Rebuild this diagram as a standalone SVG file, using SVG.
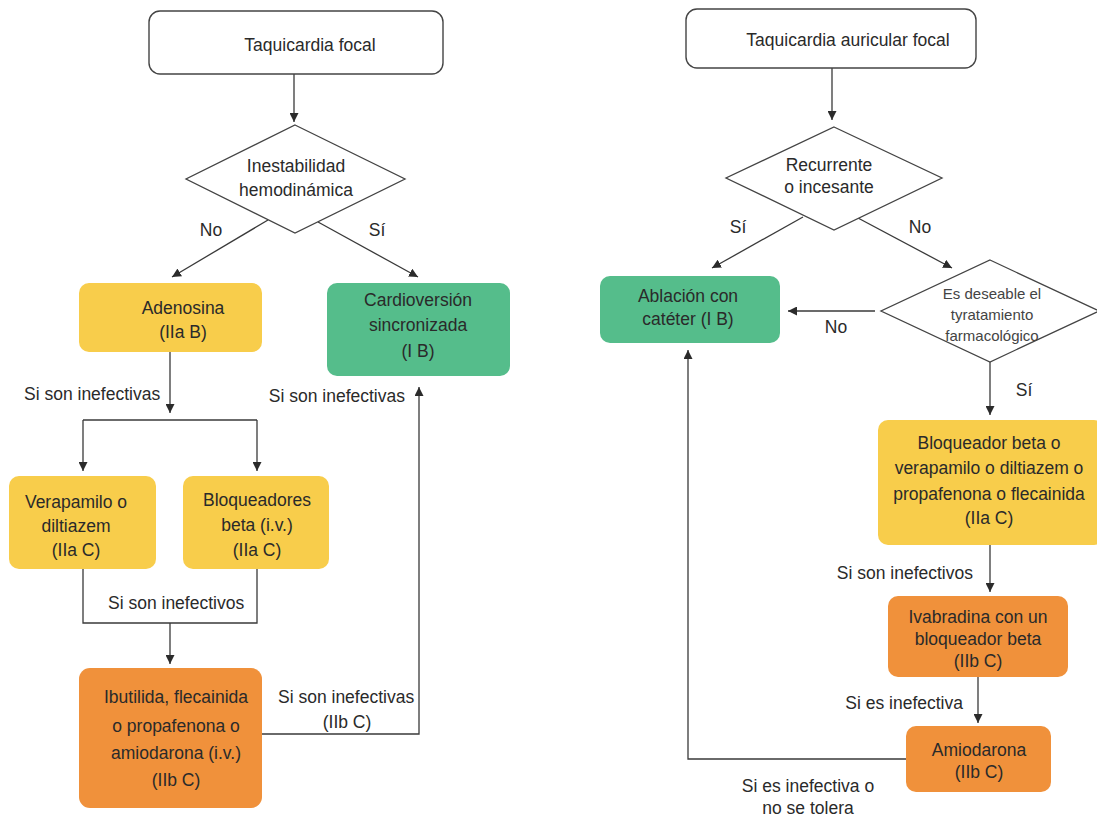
<svg xmlns="http://www.w3.org/2000/svg" width="1097" height="820" viewBox="0 0 1097 820">
  <defs>
    <marker id="arrow" viewBox="0 0 10 10" refX="10" refY="5" markerWidth="9" markerHeight="9" markerUnits="userSpaceOnUse" orient="auto">
      <path d="M0,0 L10,5 L0,10 Z" fill="#2b2b2b"/>
    </marker>
    <style>
      text { font-family: "Liberation Sans", Arial, sans-serif; font-size: 17.5px; fill: #2a2a2a; }
      .c { text-anchor: middle; }
      .e { text-anchor: end; }
      .small { font-size: 15px; fill: #444; }
      .start { fill: #fff; stroke: #444; stroke-width: 1.4; }
      .dec { fill: #fff; stroke: #444; stroke-width: 1.3; }
      .yellow { fill: #F8CD4B; }
      .green { fill: #55BD8B; }
      .orange { fill: #F0913B; }
      .edge { fill: none; stroke: #3a3a3a; stroke-width: 1.3; }
      .arr { marker-end: url(#arrow); }
    </style>
  </defs>
  <rect width="1097" height="820" fill="#fff"/>

  <!-- connectors -->
  <g id="connectors">
    <!-- left chart -->
    <line class="edge arr" x1="294" y1="74" x2="294" y2="122"/>
    <line class="edge arr" x1="268" y1="220" x2="172" y2="277"/>
    <line class="edge arr" x1="318" y1="222" x2="418" y2="277"/>
    <line class="edge arr" x1="170" y1="352" x2="170" y2="413"/>
    <polyline class="edge" points="83,420 257,420"/>
    <line class="edge arr" x1="83" y1="420" x2="83" y2="471"/>
    <line class="edge arr" x1="257" y1="420" x2="257" y2="471"/>
    <polyline class="edge" points="83,569 83,623 257,623 257,569"/>
    <line class="edge arr" x1="170" y1="623" x2="170" y2="664"/>
    <polyline class="edge arr" points="262,734 419,734 419,387"/>
    <!-- right chart -->
    <line class="edge arr" x1="832" y1="68" x2="832" y2="120"/>
    <line class="edge arr" x1="803" y1="217" x2="712" y2="268"/>
    <line class="edge arr" x1="858" y1="218" x2="952" y2="268"/>
    <line class="edge arr" x1="875" y1="311" x2="788" y2="311"/>
    <line class="edge arr" x1="990" y1="362" x2="990" y2="415"/>
    <line class="edge arr" x1="990" y1="545" x2="990" y2="592"/>
    <line class="edge arr" x1="978" y1="677" x2="978" y2="723"/>
    <polyline class="edge arr" points="906,759 688,759 688,350"/>
  </g>

  <!-- connector labels -->
  <g id="labels">
    <text x="211" y="236" class="c">No</text>
    <text x="377" y="236" class="c">Sí</text>
    <text x="24" y="400">Si son inefectivas</text>
    <text x="405" y="402" class="e">Si son inefectivas</text>
    <text x="108" y="609">Si son inefectivos</text>
    <text x="278" y="703">Si son inefectivas</text>
    <text x="347" y="728" class="c">(IIb C)</text>
    <text x="738" y="233" class="c">Sí</text>
    <text x="920" y="233" class="c">No</text>
    <text x="836" y="333" class="c">No</text>
    <text x="1024" y="396" class="c">Sí</text>
    <text x="973" y="579" class="e">Si son inefectivos</text>
    <text x="963" y="709" class="e">Si es inefectiva</text>
    <text x="808" y="792" class="c">Si es inefectiva o</text>
    <text x="808" y="814" class="c">no se tolera</text>
  </g>

  <!-- left chart nodes -->
  <g id="taquicardia-focal">
    <rect class="start" x="149" y="11" width="294" height="63" rx="11"/>
    <text x="310" y="51" class="c">Taquicardia focal</text>
  </g>
  <g id="inestabilidad">
    <polygon class="dec" points="295,125 405,179 295,233 186,179"/>
    <text x="296" y="172" class="c">Inestabilidad</text>
    <text x="296" y="196" class="c">hemodinámica</text>
  </g>
  <g id="adenosina">
    <rect class="yellow" x="79" y="283" width="183" height="69" rx="10"/>
    <text x="183" y="314" class="c">Adenosina</text>
    <text x="183" y="338" class="c">(IIa B)</text>
  </g>
  <g id="cardioversion">
    <rect class="green" x="327" y="283" width="183" height="93" rx="10"/>
    <text x="418" y="306" class="c">Cardioversión</text>
    <text x="418" y="331" class="c">sincronizada</text>
    <text x="418" y="357" class="c">(I B)</text>
  </g>
  <g id="verapamilo">
    <rect class="yellow" x="9" y="476" width="147" height="93" rx="10"/>
    <text x="76" y="508" class="c">Verapamilo o</text>
    <text x="76" y="532" class="c">diltiazem</text>
    <text x="76" y="556" class="c">(IIa C)</text>
  </g>
  <g id="bloqueadores">
    <rect class="yellow" x="183" y="476" width="146" height="93" rx="10"/>
    <text x="257" y="506" class="c">Bloqueadores</text>
    <text x="257" y="531" class="c">beta (i.v.)</text>
    <text x="257" y="556" class="c">(IIa C)</text>
  </g>
  <g id="ibutilida">
    <rect class="orange" x="79" y="668" width="183" height="140" rx="11"/>
    <text x="176" y="703" class="c">Ibutilida, flecainida</text>
    <text x="176" y="732" class="c">o propafenona o</text>
    <text x="176" y="759" class="c">amiodarona (i.v.)</text>
    <text x="176" y="786" class="c">(IIb C)</text>
  </g>

  <!-- right chart nodes -->
  <g id="taquicardia-auricular">
    <rect class="start" x="686" y="9" width="290" height="59" rx="11"/>
    <text x="848" y="46" class="c">Taquicardia auricular focal</text>
  </g>
  <g id="recurrente">
    <polygon class="dec" points="834,127 942,178 834,230 726,178"/>
    <text x="829" y="171" class="c">Recurrente</text>
    <text x="829" y="193" class="c">o incesante</text>
  </g>
  <g id="ablacion">
    <rect class="green" x="600" y="276" width="180" height="67" rx="10"/>
    <text x="688" y="302" class="c">Ablación con</text>
    <text x="688" y="325" class="c">catéter (I B)</text>
  </g>
  <g id="deseable">
    <polygon class="dec" points="990,260 1099,311 990,362 881,311"/>
    <text x="992" y="299" class="c small">Es deseable el</text>
    <text x="992" y="320" class="c small">tyratamiento</text>
    <text x="992" y="341" class="c small">farmacológico</text>
  </g>
  <g id="bloqueador-beta">
    <rect class="yellow" x="878" y="420" width="226" height="125" rx="10"/>
    <text x="989" y="449" class="c">Bloqueador beta o</text>
    <text x="989" y="474" class="c">verapamilo o diltiazem o</text>
    <text x="989" y="500" class="c">propafenona o flecainida</text>
    <text x="989" y="524" class="c">(IIa C)</text>
  </g>
  <g id="ivabradina">
    <rect class="orange" x="888" y="596" width="180" height="81" rx="10"/>
    <text x="978" y="623" class="c">Ivabradina con un</text>
    <text x="978" y="645" class="c">bloqueador beta</text>
    <text x="978" y="667" class="c">(IIb C)</text>
  </g>
  <g id="amiodarona">
    <rect class="orange" x="906" y="726" width="145" height="66" rx="10"/>
    <text x="979" y="756" class="c">Amiodarona</text>
    <text x="979" y="778" class="c">(IIb C)</text>
  </g>
</svg>
